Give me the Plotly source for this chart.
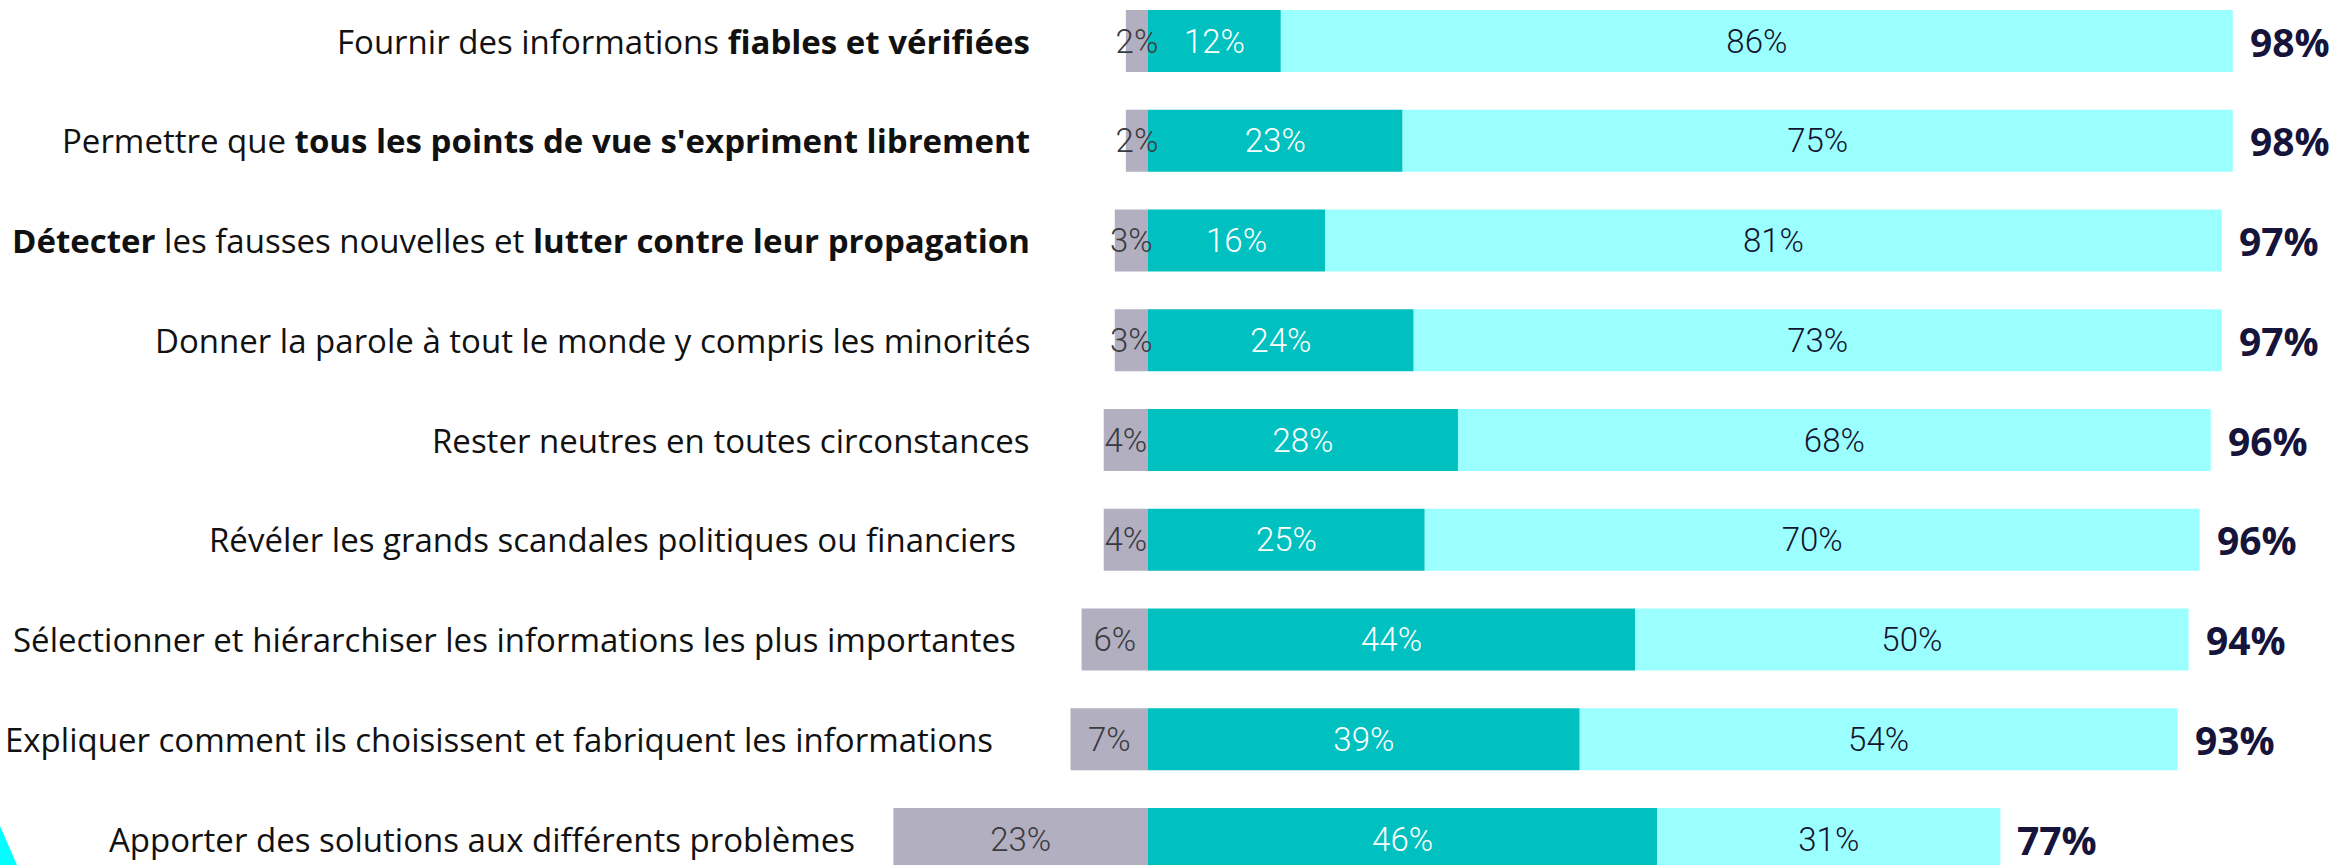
import plotly.graph_objects as go

# ---------------- data ----------------
labels = [
    "Fournir des informations <b>fiables et vérifiées</b>",
    "Permettre que <b>tous les points de vue s'expriment librement</b>",
    "<b>Détecter</b> les fausses nouvelles et <b>lutter contre leur propagation</b>",
    "Donner la parole à tout le monde y compris les minorités",
    "Rester neutres en toutes circonstances",
    "Révéler les grands scandales politiques ou financiers",
    "Sélectionner et hiérarchiser les informations les plus importantes",
    "Expliquer comment ils choisissent et fabriquent les informations",
    "Apporter des solutions aux différents problèmes",
]
pas_important = [2, 2, 3, 3, 4, 4, 6, 7, 23]
assez_important = [12, 23, 16, 24, 28, 25, 44, 39, 46]
tres_important = [86, 75, 81, 73, 68, 70, 50, 54, 31]
totals = [98, 98, 97, 97, 96, 96, 94, 93, 77]

# ---------------- layout helpers (pixels) ----------------
W, H = 2338, 865
label_right_px = [1032, 1032, 1032, 1032, 1032, 1018, 1018, 995, 857]

rows = list(range(len(labels)))
FONT = "Open Sans"
LFONT = "Roboto"

common = dict(orientation="h", textposition="inside", insidetextanchor="middle",
              constraintext="none", textangle=0, showlegend=False, hoverinfo="skip",
              cliponaxis=False)

fig = go.Figure()
fig.add_trace(go.Bar(
    y=rows, x=assez_important, base=0,
    marker=dict(color="#00C1BF", line=dict(width=0)),
    text=[f"{v}%" for v in assez_important],
    textfont=dict(family=LFONT, size=33, color="#FFFFFF", weight=300),
    **common,
))
fig.add_trace(go.Bar(
    y=rows, x=tres_important, base=assez_important,
    marker=dict(color="#9CFFFF", line=dict(width=0)),
    text=[f"{v}%" for v in tres_important],
    textfont=dict(family=LFONT, size=33, color="#15142E", weight=300),
    **common,
))
# drawn last so its labels sit on top of the neighbouring teal bar
fig.add_trace(go.Bar(
    y=rows, x=[-v for v in pas_important], base=0,
    marker=dict(color="#B1AFC0", line=dict(width=0)),
    text=[f"{v}%" for v in pas_important],
    textfont=dict(family=LFONT, size=33, color="#3A3A3F", weight=300),
    **common,
))

annotations = []
for i, lab in enumerate(labels):
    annotations.append(dict(
        x=label_right_px[i] / W, xref="paper", y=i, yref="y",
        text=lab, showarrow=False, xanchor="right", yanchor="middle",
        font=dict(family=FONT, size=33, color="#111111"),
    ))
    annotations.append(dict(
        x=assez_important[i] + tres_important[i], xref="x", y=i, yref="y",
        text=f"<b>{totals[i]}%</b>", showarrow=False, xanchor="left",
        yanchor="middle", xshift=15,
        font=dict(family=FONT, size=39, color="#16143A", weight=800),
    ))

zero_px = 1148
px_per_pct = 11.07
row0_px = 41
row_step = 99.75

fig.update_layout(
    width=W, height=H,
    margin=dict(l=0, r=0, t=0, b=0),
    paper_bgcolor="white", plot_bgcolor="white",
    barmode="overlay", bargap=0.38,
    xaxis=dict(range=[-zero_px / px_per_pct, (W - zero_px) / px_per_pct],
               visible=False, fixedrange=True),
    yaxis=dict(range=[len(labels) - 1 + (H - (row0_px + row_step * (len(labels) - 1))) / row_step,
                      -row0_px / row_step],
               visible=False, fixedrange=True),
    annotations=annotations,
    shapes=[dict(type="path", xref="paper", yref="paper",
                 path=f"M 0 {1 - 826 / H} L {17 / W} 0 L 0 0 Z",
                 fillcolor="#00FFFF", line=dict(width=0))],
    font=dict(family=FONT),
)

fig.write_html("out.html", config={"displayModeBar": False},
               post_script="document.body.style.margin='0';document.body.style.overflow='hidden';")
